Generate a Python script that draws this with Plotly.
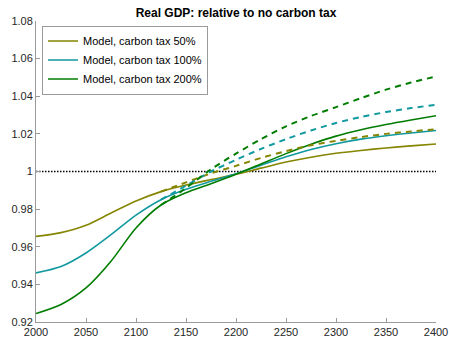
import plotly.graph_objects as go

# Years on the horizontal axis
years = [2000, 2025, 2050, 2075, 2100, 2125, 2150, 2175, 2200,
         2225, 2250, 2275, 2300, 2325, 2350, 2375, 2400]

# Real GDP relative to the no-carbon-tax baseline (solid: model paths)
gdp_tax50 = [0.9655, 0.9675, 0.9714, 0.9779, 0.9843, 0.9893, 0.9928, 0.9957, 0.9985,
             1.0018, 1.0050, 1.0076, 1.0097, 1.0112, 1.0125, 1.0136, 1.0146]
gdp_tax100 = [0.9461, 0.9495, 0.9567, 0.9664, 0.9768, 0.9850, 0.9905, 0.9948, 0.9988,
              1.0033, 1.0078, 1.0117, 1.0148, 1.0172, 1.0190, 1.0205, 1.0218]
gdp_tax200 = [0.9245, 0.9293, 0.9381, 0.9523, 0.9700, 0.9822, 0.9887, 0.9935, 0.9985,
              1.0040, 1.0095, 1.0145, 1.0188, 1.0222, 1.0250, 1.0274, 1.0296]

# Alternative (dashed) paths branching off the model paths
alt_years = [2125, 2150, 2175, 2200, 2225, 2250, 2275, 2300, 2325, 2350, 2375, 2400]
alt_tax50 = [0.9893, 0.9942, 0.9990, 1.0030, 1.0072, 1.0108, 1.0140, 1.0163,
             1.0183, 1.0200, 1.0213, 1.0225]
alt_tax100 = [0.9850, 0.9925, 1.0000, 1.0062, 1.0120, 1.0172, 1.0218, 1.0258,
              1.0290, 1.0316, 1.0337, 1.0355]
alt_tax200 = [0.9822, 0.9912, 1.0012, 1.0095, 1.0172, 1.0240, 1.0295, 1.0342,
              1.0390, 1.0435, 1.0473, 1.0505]

series_names = ["Model, carbon tax 50%", "Model, carbon tax 100%", "Model, carbon tax 200%"]
colors = ["#858500", "#10999f", "#007d00"]

y_ticks = [0.92, 0.94, 0.96, 0.98, 1.0, 1.02, 1.04, 1.06, 1.08]
y_tick_text = ["0.92", "0.94", "0.96", "0.98", "1", "1.02", "1.04", "1.06", "1.08"]
x_ticks = [2000, 2050, 2100, 2150, 2200, 2250, 2300, 2350, 2400]

fig = go.Figure()

# Reference line at 1 (no effect)
fig.add_trace(go.Scatter(x=[2000, 2400], y=[1, 1], mode="lines",
                         line=dict(color="black", width=1.3, dash="1.5px,1.5px"),
                         showlegend=False, hoverinfo="skip"))

for name, vals, col in zip(series_names, [gdp_tax50, gdp_tax100, gdp_tax200], colors):
    fig.add_trace(go.Scatter(x=years, y=vals, mode="lines", name=name,
                             line=dict(color=col, width=1.6, shape="spline", smoothing=0.8)))

for vals, col in zip([alt_tax50, alt_tax100, alt_tax200], colors):
    fig.add_trace(go.Scatter(x=alt_years, y=vals, mode="lines", showlegend=False,
                             line=dict(color=col, width=2, dash="6px,5px",
                                       shape="spline", smoothing=0.8)))

axis_common = dict(
    showline=True, linecolor="#9a9a9a", linewidth=1,
    ticks="inside", ticklen=4, tickcolor="#9a9a9a",
    showgrid=False, zeroline=False, mirror=False, automargin=False,
    tickfont=dict(size=11, color="#262626"),
)

fig.update_layout(
    width=449, height=339,
    margin=dict(l=36, r=13, t=21, b=17),
    paper_bgcolor="white", plot_bgcolor="white",
    font=dict(family="Liberation Sans, Arial, sans-serif", color="#262626"),
    title=dict(text="<b>Real GDP: relative to no carbon tax</b>",
               x=(36 + 200) / 449, xanchor="center", y=0.962, yanchor="middle",
               font=dict(size=12, color="black")),
    xaxis=dict(range=[2000, 2400], tickvals=x_ticks, **axis_common),
    yaxis=dict(range=[0.92, 1.08], tickvals=y_ticks, ticktext=y_tick_text, **axis_common),
    legend=dict(x=0.015, y=0.985, xanchor="left", yanchor="top",
                bgcolor="white", bordercolor="#9a9a9a", borderwidth=1,
                font=dict(size=11, color="black"), tracegroupgap=0,
                itemwidth=30),
)

fig.write_html("out.html")
